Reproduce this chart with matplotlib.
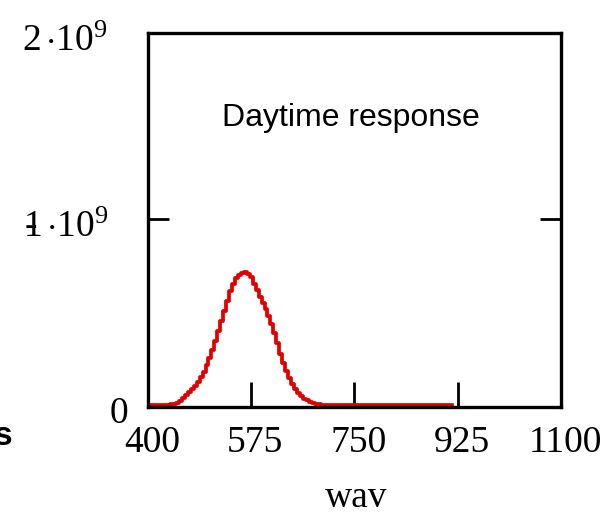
#!/usr/bin/env python
# -*- coding: utf-8 -*-
"""Daytime response curve (Mathcad style plot)."""

import matplotlib
matplotlib.use("Agg")
import matplotlib.pyplot as plt
import numpy as np


# wavelength grid, 5 nm steps
WAV_START = 400
WAV_STOP = 915
WAV_STEP = 5

# response, units of 1e8
RESPONSE_E8 = (
    [0.0] * 8                                                   # 400-435
    + [0.02, 0.05, 0.12, 0.22, 0.35, 0.5, 0.66, 0.84, 1.02, 1.22,  # 440-485
       1.48, 1.78, 2.12, 2.52, 2.95, 3.42, 3.95, 4.5, 5.05, 5.6,  # 490-535
       6.1, 6.5, 6.8, 7.0, 7.1, 7.15, 7.05, 6.85, 6.52, 6.2,      # 540-585
       5.82, 5.5, 5.15, 4.78, 4.35, 3.85, 3.3, 2.75, 2.25, 1.82,  # 590-635
       1.45, 1.12, 0.86, 0.64, 0.46, 0.33, 0.23, 0.16, 0.1, 0.06,  # 640-685
       0.03]                                                    # 690
    + [0.0] * 45                                                # 695-915
)

X_LIMITS = (400, 1100)
Y_LIMITS = (-1.2e7, 2e9)
X_TICK_LABELS = [400, 575, 750, 925, 1100]
Y_TICKS = [0, 1e9, 2e9]
Y_TICK_LABELS = ["0", r"$\text{-}\!\!\!1\,{\cdot}10^{9}$", r"$2\,{\cdot}10^{9}$"]

LABEL_FONT = "Liberation Serif"
TITLE_TEXT = "Daytime response"


def main():
    plt.rcParams["mathtext.fontset"] = "custom"
    plt.rcParams["mathtext.rm"] = LABEL_FONT
    plt.rcParams["mathtext.it"] = LABEL_FONT + ":italic"
    plt.rcParams["mathtext.bf"] = LABEL_FONT + ":bold"

    wav = np.arange(WAV_START, WAV_STOP + 1, WAV_STEP)
    resp = np.array(RESPONSE_E8) * 1e8

    fig = plt.figure(figsize=(6.1, 5.17), dpi=100)
    ax = fig.add_axes([0.2426, 0.2128, 0.677, 0.7234])

    ax.plot(wav, resp, color="#e00000", lw=2.7, drawstyle="steps-mid", zorder=2)

    ax.set_xlim(*X_LIMITS)
    ax.set_ylim(*Y_LIMITS)

    for sp in ax.spines.values():
        sp.set_linewidth(2.4)
        sp.set_zorder(3)

    # only the inner ticks show, the outer ones sit on the frame
    ax.set_xticks(X_TICK_LABELS[1:-1])
    ax.set_yticks(Y_TICKS[1:-1])
    ax.set_xticklabels([])
    ax.set_yticklabels([])
    ax.tick_params(axis="x", direction="in", length=18, width=2)
    ax.tick_params(axis="y", direction="in", length=15, width=2, right=True)

    # tick labels, placed by hand like the original
    for xv in X_TICK_LABELS:
        ax.annotate(str(xv), xy=(xv, 0), xycoords=("data", "axes fraction"),
                    xytext=(3, -32.5), textcoords="offset points",
                    ha="center", va="baseline", fontsize=27, family=LABEL_FONT)
    for yv, lab in zip(Y_TICKS, Y_TICK_LABELS):
        dx = -14.4 if yv == 0 else -28.8
        ax.annotate(lab, xy=(0, yv), xycoords=("axes fraction", "data"),
                    xytext=(dx, -13), textcoords="offset points",
                    ha="right", va="baseline", fontsize=27, family=LABEL_FONT)

    ax.text(0.4915, 0.773, TITLE_TEXT, transform=ax.transAxes, ha="center",
            va="center", fontsize=23, family="Liberation Sans")

    fig.text(356 / 610, 1 - 507 / 517, "wav", ha="center", va="baseline",
             fontsize=27, family=LABEL_FONT)
    fig.text(12 / 610, 1 - 445 / 517, "s", ha="right", va="baseline",
             fontsize=24, family="Liberation Sans", weight="bold")

    fig.savefig("out.png", dpi=100)
    plt.close(fig)


if __name__ == "__main__":
    main()
